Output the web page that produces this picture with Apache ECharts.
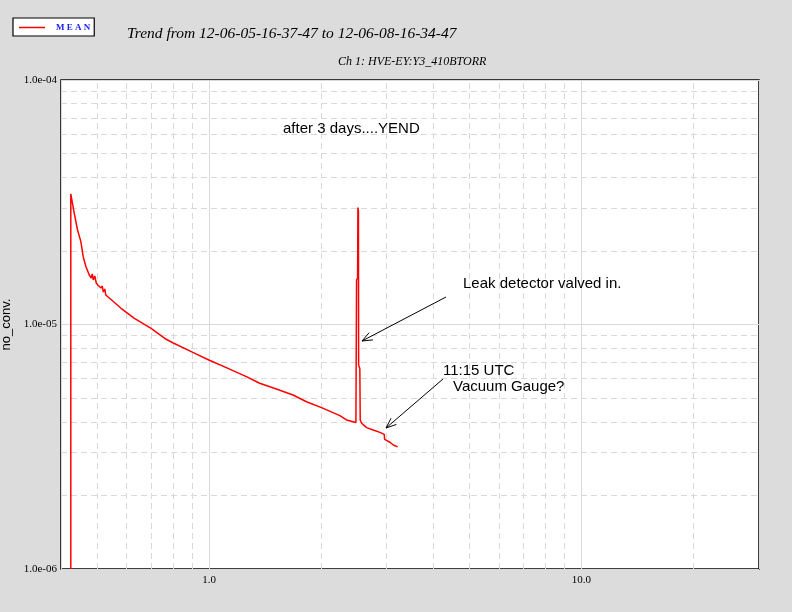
<!DOCTYPE html>
<html><head><meta charset="utf-8">
<script src="https://cdn.jsdelivr.net/npm/echarts@6/dist/echarts.min.js"></script>
<style>html,body{margin:0;padding:0;background:#dcdcdc}#c{width:792px;height:612px}</style>
</head><body><div id="c"></div>
<script>
const titleText = 'Trend from 12-06-05-16-37-47 to 12-06-08-16-34-47';
const subTitleText = 'Ch 1: HVE-EY:Y3_410BTORR';
const seriesName = 'MEAN';
const yAxisName = 'no_conv.';

const timeDays = [0.425, 0.425, 0.4342, 0.4431, 0.4523, 0.4589, 0.4668, 0.4764, 0.4794, 0.4824, 0.4853, 0.4883, 0.4929, 0.4975, 0.5022, 0.5123, 0.5164, 0.5196, 0.5244, 0.5277, 0.5326, 0.5392, 0.5450, 0.5799, 0.6297, 0.6984, 0.7665, 0.7985, 0.9040, 0.998, 1.112, 1.259, 1.367, 1.516, 1.680, 1.826, 2.004, 2.245, 2.339, 2.479, 2.486, 2.489, 2.505, 2.510, 2.518, 2.521, 2.540, 2.546, 2.568, 2.649, 2.760, 2.876, 2.954, 2.961, 3.060, 3.124, 3.210];
const pressure = [1.0e-6, 3.42e-5, 2.85e-5, 2.435e-5, 2.182e-5, 1.894e-5, 1.723e-5, 1.594e-5, 1.624e-5, 1.55e-5, 1.609e-5, 1.521e-5, 1.579e-5, 1.478e-5, 1.45e-5, 1.41e-5, 1.437e-5, 1.358e-5, 1.397e-5, 1.32e-5, 1.345e-5, 1.283e-5, 1.268e-5, 1.165e-5, 1.060e-5, 9.65e-6, 8.70e-6, 8.42e-6, 7.69e-6, 7.16e-6, 6.66e-6, 6.12e-6, 5.75e-6, 5.45e-6, 5.15e-6, 4.83e-6, 4.57e-6, 4.24e-6, 4.07e-6, 3.97e-6, 3.99e-6, 1.52e-5, 1.55e-5, 3.01e-5, 2.9e-5, 6.83e-6, 6.6e-6, 4.07e-6, 3.945e-6, 3.785e-6, 3.70e-6, 3.62e-6, 3.555e-6, 3.39e-6, 3.30e-6, 3.215e-6, 3.16e-6];

const xRange = [0.4, 30];
const yRange = [1e-6, 1e-4];
const xMinorGrid = [0.5, 0.6, 0.7, 0.8, 0.9, 2, 3, 4, 5, 6, 7, 8, 9, 20];
const yMinorGrid = [2e-6, 3e-6, 4e-6, 5e-6, 6e-6, 7e-6, 8e-6, 9e-6, 2e-5, 3e-5, 4e-5, 5e-5, 6e-5, 7e-5, 8e-5, 9e-5];

const noteYend = 'after 3 days....YEND';
const noteLeak = 'Leak detector valved in.';
const noteTime = '11:15 UTC';
const noteGauge = 'Vacuum Gauge?';

const chart = echarts.init(document.getElementById('c'), null, {renderer: 'canvas'});

function isPow10(v) {
  const l = Math.log10(v);
  return Math.abs(l - Math.round(l)) < 1e-6;
}
function fmtExp(v) {
  const e = Math.round(Math.log10(v));
  const s = e < 0 ? '-' : '+';
  const a = Math.abs(e);
  return '1.0e' + s + (a < 10 ? '0' + a : a);
}
function arrow(x1, y1, x2, y2) {
  const ang = Math.atan2(y2 - y1, x2 - x1);
  const L = 11, spread = 0.38;
  const p1 = [x2 - L * Math.cos(ang - spread), y2 - L * Math.sin(ang - spread)];
  const p2 = [x2 - L * Math.cos(ang + spread), y2 - L * Math.sin(ang + spread)];
  return [
    {type: 'line', shape: {x1, y1, x2, y2}, style: {stroke: '#000', lineWidth: 1}, z: 100},
    {type: 'polyline', shape: {points: [p1, [x2, y2], p2]}, style: {stroke: '#000', lineWidth: 1, fill: null}, z: 100}
  ];
}
const sans = '"Liberation Sans", Arial, sans-serif';
const serif = '"Liberation Serif", "Times New Roman", serif';

const gridStyle = {color: '#d9d9d9', width: 1, type: [6, 4]};
const minorLines = xMinorGrid.map(v => [{coord: [v, yRange[0]]}, {coord: [v, yRange[1]]}])
  .concat(yMinorGrid.map(v => [{coord: [xRange[0], v]}, {coord: [xRange[1], v]}]));

chart.setOption({
  animation: false,
  backgroundColor: '#dcdcdc',
  title: [
    {text: titleText, left: 122, top: 21, textStyle: {fontFamily: serif, fontStyle: 'italic', fontWeight: 'normal', fontSize: 15.5, color: '#000'}},
    {text: subTitleText, left: 333, top: 51, textStyle: {fontFamily: serif, fontStyle: 'italic', fontWeight: 'normal', fontSize: 12, color: '#000'}}
  ],
  legend: {
    left: 13, top: 18, orient: 'horizontal',
    backgroundColor: '#fff', borderColor: '#000', borderWidth: 1.2, borderRadius: 0,
    padding: [5, 4, 4, 6],
    itemWidth: 26, itemHeight: 1.5,
    formatter: (n) => n.split('').join(' '),
    textStyle: {color: '#2222ee', fontFamily: serif, fontSize: 9, fontWeight: 'bold', padding: [0, 0, 0, 6]},
    data: [{name: seriesName, icon: 'rect', itemStyle: {color: '#ff0000'}}]
  },
  grid: {left: 61, top: 80, right: 33, bottom: 43, containLabel: false, outerBoundsMode: 'none',
    show: true, backgroundColor: '#fff', borderColor: '#000', borderWidth: 1.5},
  xAxis: {
    type: 'log', logBase: 10, min: xRange[0], max: xRange[1],
    axisLine: {show: false}, axisTick: {show: false},
    splitLine: {show: true, lineStyle: {color: '#d9d9d9', width: 1, type: 'solid'}},
    axisLabel: {margin: 6, fontFamily: serif, fontSize: 11, color: '#000', showMinLabel: false, showMaxLabel: false,
      formatter: (v) => isPow10(v) ? v.toFixed(1) : ''}
  },
  yAxis: {
    type: 'log', logBase: 10, min: yRange[0], max: yRange[1],
    name: yAxisName, nameLocation: 'middle', nameGap: 46, nameRotate: 90,
    nameTextStyle: {fontFamily: sans, fontSize: 13, color: '#000'},
    axisLine: {show: false}, axisTick: {show: false},
    splitLine: {show: true, lineStyle: {color: '#d9d9d9', width: 1, type: 'solid'}},
    axisLabel: {margin: 4, fontFamily: serif, fontSize: 11, color: '#000', formatter: (v) => fmtExp(v)}
  },
  series: [
    {
      type: 'line', name: '_grid', data: [], silent: true, z: 1,
      markLine: {
        silent: true, symbol: 'none', label: {show: false}, animation: false,
        lineStyle: gridStyle,
        data: minorLines
      }
    },
    {
      type: 'line', name: seriesName, z: 5,
      data: timeDays.map((t, i) => [t, pressure[i]]),
      showSymbol: false, symbol: 'none',
      lineStyle: {color: '#ff0000', width: 1.5},
      itemStyle: {color: '#ff0000'}
    }
  ],
  graphic: [
    {type: 'text', left: 283, top: 121, style: {text: noteYend, font: '15px ' + sans, fill: '#000'}, z: 100},
    {type: 'text', left: 463, top: 276, style: {text: noteLeak, font: '15px ' + sans, fill: '#000'}, z: 100},
    {type: 'text', left: 443, top: 363, style: {text: noteTime, font: '15px ' + sans, fill: '#000'}, z: 100},
    {type: 'text', left: 453, top: 379, style: {text: noteGauge, font: '15px ' + sans, fill: '#000'}, z: 100}
  ].concat(arrow(446, 297, 362, 341)).concat(arrow(443, 379, 386, 428))
});
</script></body></html>
